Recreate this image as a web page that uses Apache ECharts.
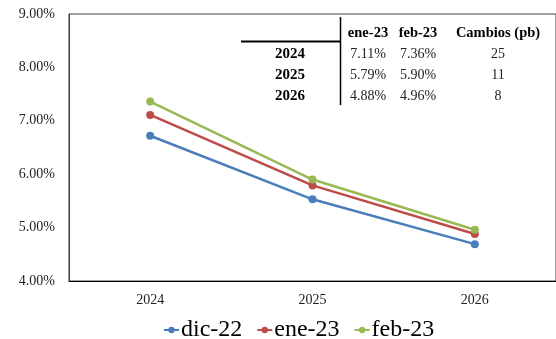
<!DOCTYPE html>
<html>
<head>
<meta charset="utf-8">
<script src="https://cdn.jsdelivr.net/npm/echarts@6/dist/echarts.min.js"></script>
<style>
  html, body { margin: 0; padding: 0; background: #fff; }
  #chart { width: 556px; height: 339px; }
</style>
</head>
<body>
<div id="chart"></div>
<script>
// Forecast years on the category axis
const years = ['2024', '2025', '2026'];

// Expected rate by survey month (percent)
const dic22 = [6.72, 5.53, 4.69];
const ene23 = [7.11, 5.79, 4.88];
const feb23 = [7.36, 5.90, 4.96];

const seriesNames = ['dic-22', 'ene-23', 'feb-23'];
const seriesColors = ['#4a7ebb', '#be4b48', '#98b954'];

// Y axis ticks (percent)
const yMin = 4, yMax = 9, yStep = 1;

// Summary table: change in basis points between the last two surveys
const tableHeader = ['ene-23', 'feb-23', 'Cambios (pb)'];
const changesPb = years.map((_, i) => Math.round((feb23[i] - ene23[i]) * 100));

const FONT = '"Liberation Serif", "Times New Roman", serif';

const chart = echarts.init(document.getElementById('chart'), null, { renderer: 'canvas' });

// Table layout
const colX = [290, 368, 418, 498];
const headerY = 33;
const rowY = [54, 75, 96];

const tableGraphics = [
  { type: 'line', shape: { x1: 241, y1: 41.5, x2: 340, y2: 41.5 }, style: { stroke: '#000', lineWidth: 2 } },
  { type: 'line', shape: { x1: 340.5, y1: 17, x2: 340.5, y2: 105 }, style: { stroke: '#000', lineWidth: 1.5 } }
];
tableHeader.forEach((h, c) => {
  tableGraphics.push({
    type: 'text', x: colX[c + 1], y: headerY,
    style: { text: h, font: 'bold 14.5px ' + FONT, fill: '#000', align: 'center', verticalAlign: 'middle' }
  });
});
years.forEach((y, r) => {
  const cells = [y, ene23[r].toFixed(2) + '%', feb23[r].toFixed(2) + '%', String(changesPb[r])];
  cells.forEach((t, c) => {
    tableGraphics.push({
      type: 'text', x: colX[c], y: rowY[r],
      style: {
        text: t,
        font: (c === 0 ? 'bold 15px ' : '14px ') + FONT,
        fill: c === 0 ? '#000' : '#222',
        align: 'center', verticalAlign: 'middle'
      }
    });
  });
});

const dataSets = [dic22, ene23, feb23];

chart.setOption({
  animation: false,
  backgroundColor: '#fff',
  textStyle: { fontFamily: FONT },
  grid: {
    left: 69, right: -10, top: 14, bottom: 58,
    show: true, borderColor: '#404040', borderWidth: 1
  },
  legend: {
    top: 313, left: 158,
    itemWidth: 15, itemHeight: 8, itemGap: 14,
    textStyle: { fontFamily: FONT, fontSize: 24, color: '#000', padding: [0, 0, 0, -3] },
    data: seriesNames
  },
  xAxis: {
    type: 'category',
    data: years,
    boundaryGap: true,
    axisLine: { lineStyle: { color: '#000', width: 1 } },
    axisTick: { show: false },
    axisLabel: { fontFamily: FONT, fontSize: 14, color: '#222', margin: 12 }
  },
  yAxis: {
    type: 'value',
    min: yMin, max: yMax, interval: yStep,
    splitLine: { show: false },
    axisLine: { show: true, lineStyle: { color: '#404040' } },
    axisTick: { show: false },
    axisLabel: {
      fontFamily: FONT, fontSize: 14, color: '#222', margin: 14,
      formatter: v => v.toFixed(2) + '%'
    }
  },
  series: seriesNames.map((name, i) => ({
    name,
    type: 'line',
    data: dataSets[i],
    color: seriesColors[i],
    symbol: 'circle',
    symbolSize: 8,
    lineStyle: { width: 2.5, color: seriesColors[i] },
    itemStyle: { color: seriesColors[i] }
  })),
  graphic: tableGraphics
});
</script>
</body>
</html>
